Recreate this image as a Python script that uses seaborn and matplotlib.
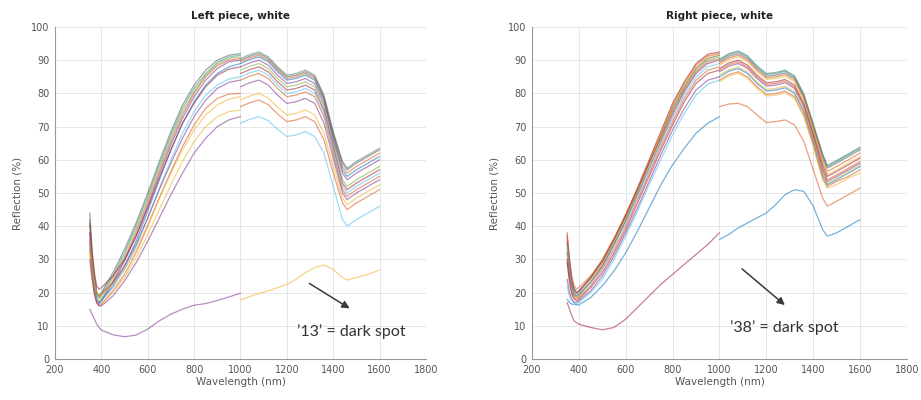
import matplotlib
matplotlib.use("Agg")
import matplotlib.pyplot as plt
import seaborn as sns
import numpy as np

# ---------------- data ----------------
WL_A = [350, 360, 370, 380, 390, 400, 450, 500, 550, 600, 650, 700, 750, 800, 850, 900, 950, 1000]
WL_B = [1000, 1040, 1080, 1120, 1160, 1200, 1240, 1280, 1320, 1360, 1400, 1440, 1460, 1500, 1550, 1600]

left_pre = [
    [44, 33, 25, 20, 19, 20, 26, 33, 41, 50, 59.5, 68.5, 76.5, 82.5, 87, 90, 91.5, 92],
    [42, 31, 24, 19.5, 18.5, 19.5, 25, 32, 40, 49, 58.5, 67.5, 75.5, 81.5, 86, 89.3, 91, 91.5],
    [40, 30, 23, 19, 18, 19, 24.5, 31, 39, 48, 57.5, 66.5, 74.5, 80.5, 85.5, 88.8, 90.5, 91],
    [38, 28, 21, 18, 17, 18, 23.5, 30, 38, 47, 56.5, 65.5, 73.5, 80, 85, 88.3, 90, 90.5],
    [36, 27, 20, 17, 16.5, 17.5, 23, 29.5, 37, 46, 55.5, 64.5, 72.5, 79, 84, 87.5, 89.5, 90],
    [35, 27, 21, 18, 17, 17.5, 22, 28, 35.5, 44.5, 54, 63, 71, 77.5, 82.5, 86, 88, 89],
    [41, 32, 26, 22, 21, 21.5, 25, 30, 37, 45.5, 54.5, 63, 71, 77, 82, 85.5, 87.3, 88],
    [34, 26, 21, 18, 17, 17.5, 21.5, 27, 34, 42.5, 51.5, 60, 68, 74.5, 79.5, 82.5, 84.3, 85],
    [38, 30, 24, 20, 19, 19.5, 23, 28, 34.5, 42.5, 51, 59, 66.5, 73, 78, 81.5, 83.3, 84],
    [33, 25, 20, 17, 16, 16.5, 20.5, 25.5, 32, 40, 48.5, 56.5, 64, 70.5, 75.5, 78.5, 79.8, 80],
    [36, 29, 23, 20, 19, 19.5, 22.5, 27, 33, 40.5, 48.5, 56, 63, 69, 73.5, 76.5, 78.3, 79],
    [32, 25, 20, 17, 16, 16.5, 20, 24.5, 30.5, 37.5, 45, 52.5, 59.5, 65.5, 70, 73, 74.5, 75],
    [30, 24, 19.5, 17, 16, 16, 19, 23.5, 29, 35.5, 42.5, 49.5, 56, 62, 66.5, 70, 72, 73],
]
left_pre_dark = [15, 13.5, 12, 10.5, 9.5, 8.7, 7.3, 6.7, 7.2, 9, 11.5, 13.5, 15, 16.2, 16.7, 17.6, 18.7, 19.8]

left_post = [
    [90.5, 91.7, 92.5, 91.0, 88.0, 85.5, 86.0, 87.0, 85.5, 79.5, 68.5, 59.5, 57.5, 59.5, 61.5, 63.5],
    [90, 91.2, 92, 90.5, 87.5, 85, 85.5, 86.5, 85, 79, 68, 59, 57, 59, 61, 63],
    [89.5, 90.7, 91.5, 90, 87, 84.5, 85, 86, 84.5, 78.5, 67.5, 58, 56, 58, 60, 62],
    [89, 90.2, 91, 89.5, 86.5, 84, 84.5, 85.5, 84, 78, 67, 57, 55, 57, 59, 61],
    [88, 89.2, 90, 88.5, 85.5, 83, 83.5, 84.5, 83, 77, 66, 56, 54, 56, 58, 60],
    [87, 88.2, 89, 87.5, 84.5, 82, 82.5, 83.5, 82, 76, 65, 54, 52, 54, 56, 58],
    [86, 87.2, 88, 86.5, 83.5, 81, 81.5, 82.5, 81, 75, 64, 53, 51, 53, 55, 57],
    [85, 86.2, 87, 85.5, 82.5, 80, 80.5, 81.5, 80, 74, 63, 52, 50, 52, 54, 56],
    [84, 85.2, 86, 84.5, 81.5, 79, 79.5, 80.5, 79, 73, 62, 51, 49, 51, 53, 55],
    [82, 83.2, 84, 82.5, 79.5, 77, 77.5, 78.5, 77, 71, 60.5, 50, 48, 50, 52, 54],
    [78, 79.2, 80, 78.6, 75.8, 73.5, 74, 75, 73.5, 68, 58, 48.5, 46.5, 48.5, 50.5, 52.5],
    [76, 77.2, 78, 76.6, 73.8, 71.5, 72, 73, 71.5, 66, 56, 47, 45, 47, 49, 51],
    [71, 72.2, 73, 71.8, 69.2, 67, 67.5, 68.5, 67, 62, 52, 42, 40, 42, 44, 46],
]
left_post_dark = [17.8, 18.8, 19.8, 20.5, 21.5, 22.5, 24, 26, 27.5, 28.3, 27, 24.5, 23.8, 24.5, 25.5, 26.8]

right_pre = [
    [38, 30, 24, 21, 20, 20.5, 24.5, 29.5, 36, 43.5, 51.5, 60, 68.5, 77, 83.5, 89, 91.8, 92.5],
    [36, 29, 23.5, 20.5, 19.5, 20, 24, 29, 35.5, 43, 51, 59.5, 68, 76.5, 83, 88.5, 91.3, 92],
    [33, 26, 22, 19.5, 18.5, 19, 23.5, 28.5, 35, 42.5, 50.5, 59, 67.5, 76, 82.5, 88, 91, 92],
    [35, 28, 23, 21, 20, 20.5, 24.5, 29.5, 36, 43, 51, 59, 67, 75.5, 82, 87.5, 90.5, 91.5],
    [30, 25, 21, 19, 18.5, 19, 23, 28, 34.5, 42, 50, 58.5, 66.5, 74.5, 81.5, 87, 90, 91],
    [37, 30, 25, 22, 21, 21.5, 25, 30, 36.5, 43.5, 51, 59, 66.5, 74.5, 81, 86.5, 89.5, 90.5],
    [32, 26, 22, 19.5, 19, 19.5, 23, 28, 34.5, 41.5, 49.5, 57.5, 65.5, 73.5, 80.5, 86, 89, 90],
    [34, 27, 22.5, 20, 19, 19.5, 23, 27.5, 34, 41, 49, 57, 65, 72.5, 79.5, 85, 88, 89],
    [30, 24, 20, 18.5, 18, 18.5, 22, 27, 33, 40, 48, 56, 64, 71.5, 78.5, 84, 87, 88],
    [29, 23, 19.5, 18, 17.5, 18, 21.5, 26, 32, 39, 47, 55, 63, 70.5, 77.5, 83, 86, 87],
    [24, 20, 18, 17, 17, 17.5, 20.5, 25, 31, 38, 45.5, 53.5, 61.5, 69, 75.5, 81, 84, 85],
    [22, 19, 17.5, 17, 16.5, 17, 20, 24, 30, 37, 44.5, 52.5, 60, 67.5, 74, 79.5, 82.8, 84],
    [18, 17, 16.5, 16.5, 16.3, 16.3, 18.5, 22, 26.5, 32, 38.5, 45.5, 52.5, 58.5, 63.5, 68, 71, 73],
]
right_pre_dark = [17, 15, 13, 11.5, 11, 10.5, 9.5, 8.8, 9.5, 12, 15.5, 19, 22.5, 25.5, 28.5, 31.5, 34.5, 38]

right_post = [
    [90.3, 92, 92.8, 91.3, 88.3, 86, 86.3, 87, 85.3, 79.8, 70.8, 61.8, 58.3, 59.8, 61.8, 63.8],
    [90, 91.7, 92.5, 91, 88, 85.7, 86, 86.7, 85, 79.5, 70.5, 61.5, 58, 59.5, 61.5, 63.5],
    [89.5, 91.2, 92, 90.5, 87.5, 85.2, 85.5, 86.2, 84.5, 79, 70, 61, 57.5, 59, 61, 63],
    [89, 90.7, 91.5, 90, 87, 84.7, 85, 85.7, 84, 78.5, 69.5, 60, 56.5, 58, 60, 62],
    [88.5, 90.2, 91, 89.5, 86.5, 84.2, 84.5, 85.2, 83.5, 78, 69, 59.5, 55.5, 57, 59, 61],
    [87.5, 89.2, 90, 88.5, 85.5, 83.2, 83.5, 84.2, 82.5, 77, 68, 58.5, 55, 56.5, 58.5, 60.5],
    [87, 88.7, 89.5, 88, 85, 82.7, 83, 83.7, 82, 76.5, 67.5, 57.5, 54, 55.5, 57.5, 59.5],
    [86.5, 88.2, 89, 87.5, 84.5, 82.2, 82.5, 83.2, 81.5, 76, 67, 57, 53.5, 55, 57, 59],
    [85.5, 87.2, 88, 86.5, 83.5, 81.2, 81.5, 82.2, 80.5, 75, 66, 56, 53, 54.5, 56.5, 58.5],
    [85, 86.7, 87.5, 86, 83, 80.7, 81, 81.7, 80, 74.5, 65.5, 55.5, 52.5, 54, 56, 58],
    [84, 85.7, 86.5, 85, 82, 79.7, 80, 80.7, 79, 73.5, 64.5, 54.5, 52, 53.5, 55, 57],
    [83.5, 85.2, 86, 84.5, 81.5, 79.2, 79.5, 80.2, 78.5, 73, 64, 54, 51.5, 52.5, 54.5, 56],
    [76, 76.8, 77, 76, 73.5, 71.2, 71.5, 72, 70.5, 65.5, 57, 48.5, 46, 47.5, 49.5, 51.5],
]
right_post_dark = [36, 37.5, 39.5, 41, 42.5, 44, 46.5, 49.5, 51, 50.5, 46, 39, 37, 38, 40, 42]

titles = ["Left piece, white", "Right piece, white"]
notes = ["\u201913\u2019 = dark spot", "\u201938\u2019 = dark spot"]
x_ticks = [200, 400, 600, 800, 1000, 1200, 1400, 1600, 1800]
y_ticks = [0, 10, 20, 30, 40, 50, 60, 70, 80, 90, 100]

# ---------------- style ----------------
sns.set_theme(style="whitegrid")
plt.rcParams['font.family'] = ['DejaVu Sans']

MATLAB = ["#0072BD", "#D95319", "#EDB120", "#7E2F8E", "#77AC30", "#4DBEEE", "#A2142F"]
pre_cols = ["#555555", "#2f8f7f", "#77AC30", "#D95319", "#7E2F8E", "#0072BD", "#A2142F",
            "#4DBEEE", "#7E2F8E", "#D95319", "#EDB120", "#EDB120", "#7E2F8E"]
post_cols = ["#4a7f70", "#555555", "#D95319", "#0072BD", "#7E2F8E", "#77AC30", "#A2142F",
             "#4DBEEE", "#D95319", "#7E2F8E", "#EDB120", "#D95319", "#4DBEEE"]
pre_cols_r = ["#A2142F", "#D95319", "#EDB120", "#555555", "#77AC30", "#D95319", "#7E2F8E",
              "#4DBEEE", "#D95319", "#A2142F", "#7E2F8E", "#4DBEEE", "#0072BD"]
post_cols_r = ["#4a7f70", "#2f8f7f", "#555555", "#D95319", "#EDB120", "#A2142F", "#D95319",
               "#7E2F8E", "#EDB120", "#0072BD", "#D95319", "#EDB120", "#D95319"]

fig = plt.figure(figsize=(9.21, 4.0), dpi=100)
axL = fig.add_axes([0.0597, 0.1025, 0.4028, 0.83])
axR = fig.add_axes([0.5776, 0.1025, 0.4072, 0.83])

panels = [
    (axL, left_pre, left_post, left_pre_dark, left_post_dark, pre_cols, post_cols,
     "#7E2F8E", "#EDB120", (1287, 23.2), (1481, 14.8), (1244, 8.4)),
    (axR, right_pre, right_post, right_pre_dark, right_post_dark, pre_cols_r, post_cols_r,
     "#A2142F", "#0072BD", (1087, 27.7), (1288, 15.7), (1045, 9.6)),
]

for i, (ax, pre, post, pdark, qdark, pc, qc, dc1, dc2, a0, a1, tp) in enumerate(panels):
    for vals, c in zip(pre, pc):
        sns.lineplot(x=WL_A, y=vals, color=c, lw=0.9, alpha=0.55, ax=ax)
    for vals, c in zip(post, qc):
        sns.lineplot(x=WL_B, y=vals, color=c, lw=0.9, alpha=0.55, ax=ax)
    sns.lineplot(x=WL_A, y=pdark, color=dc1, lw=0.9, alpha=0.55, ax=ax)
    sns.lineplot(x=WL_B, y=qdark, color=dc2, lw=0.9, alpha=0.55, ax=ax)

    ax.set_xlim(200, 1800)
    ax.set_ylim(0, 100)
    ax.set_xticks(x_ticks)
    ax.set_yticks(y_ticks)
    ax.tick_params(axis='both', labelsize=7, colors='#555555', length=2, pad=2)
    ax.grid(True, color='#e6e6e6', lw=0.7)
    ax.set_facecolor('white')
    for s in ['top', 'right']:
        ax.spines[s].set_visible(False)
    for s in ['left', 'bottom']:
        ax.spines[s].set_color('#999999')
        ax.spines[s].set_linewidth(0.8)
    ax.set_title(titles[i], fontsize=7.5, fontweight='bold', color='#222222', pad=6)
    ax.set_xlabel("Wavelength (nm)", fontsize=7.5, color='#555555', labelpad=2)
    ax.set_ylabel("Reflection (%)", fontsize=7.5, color='#555555', labelpad=6)

    ax.annotate("", xy=a1, xytext=a0,
                arrowprops=dict(arrowstyle='-|>', color='#3a3a3a', lw=1.1, mutation_scale=11))
    ax.text(tp[0], tp[1], notes[i], fontsize=11.5, family=['Lato', 'DejaVu Sans'],
            color='#333333', va='center', ha='left')

fig.savefig("out.png", dpi=100, facecolor='white')
